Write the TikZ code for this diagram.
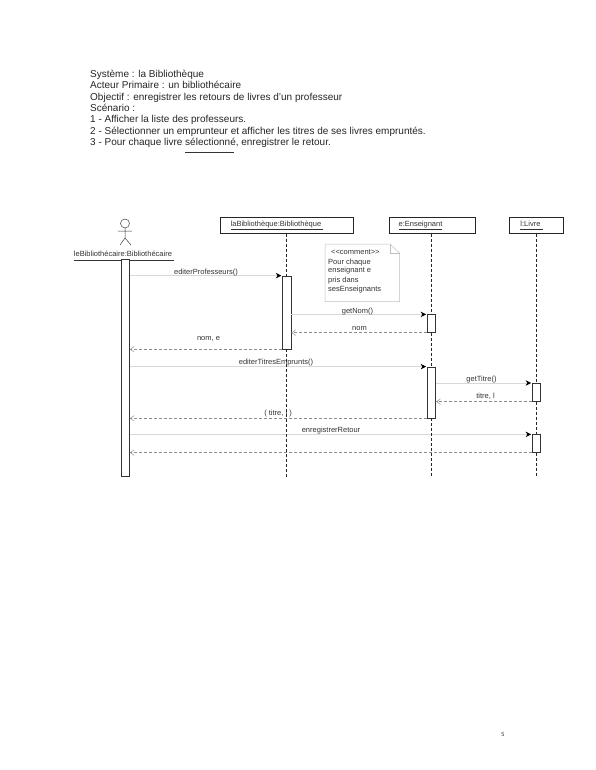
\documentclass[tikz,border=0pt]{standalone}
\usepackage{fontspec}
\setmainfont{Liberation Sans}
\usetikzlibrary{arrows.meta}
\definecolor{inktext}{HTML}{333333}
\definecolor{msgline}{HTML}{D8D8D8}
\definecolor{backline}{HTML}{8C8C8C}
\newcommand{\ulname}[1]{\underline{\vphantom{gl}#1}}
\tikzset{
  intro/.style={anchor=base west,inner sep=0pt,text=black!85,font=\fontsize{10}{12}\selectfont},
  msglabel/.style={inner sep=0pt,text=inktext,font=\fontsize{7.5}{9}\selectfont},
  headbox/.style={draw=black!85,line width=0.7pt,minimum height=15.5pt,inner sep=0pt,text=inktext,font=\fontsize{7.5}{9}\selectfont},
  activebar/.style={draw=black!80,fill=white,line width=0.7pt,minimum width=8.5pt,inner sep=0pt},
  lifeline/.style={densely dashed,line width=0.6pt,black!85},
  callmsg/.style={msgline,line width=0.7pt,shorten >=0.8pt,-{Stealth[black,length=5.5pt,width=5.5pt]}},
  backmsg/.style={backline,densely dashed,line width=0.5pt,-{Straight Barb[msgline!70!black,length=4pt,width=5.5pt]}}
}
\begin{document}
\begin{tikzpicture}[x=1pt,y=-1pt]
\useasboundingbox[fill=white] (0,0) rectangle (595,770);
% texte du scenario
\node[intro] (sys) at (90,77.5) {Système : la Bibliothèque};
\node[intro] (act) at (90,89) {Acteur Primaire : un bibliothécaire};
\node[intro] (obj) at (90,100.5) {Objectif : enregistrer les retours de livres d'un professeur};
\node[intro] (sce) at (90,112) {Scénario :};
\node[intro] (st1) at (90,123) {1 - Afficher la liste des professeurs.};
\node[intro] (st2) at (90,134.5) {2 - Sélectionner un emprunteur et afficher les titres de ses livres empruntés.};
\node[intro] (st3) at (90,146) {3 - Pour chaque livre sélectionné, enregistrer le retour.};
\draw[black!80,line width=0.5pt] (185,152) -- (234,152);
% en-tetes
\node[headbox,minimum width=133pt] (bib) at (286.5,225.5) {\ulname{laBibliothèque:Bibliothèque }\hspace*{19pt}};
\node[headbox,minimum width=86pt] (ens) at (432,225.5) {\ulname{e:Enseignant}\hspace*{23pt}};
\node[headbox,minimum width=54pt] (liv) at (536,225.5) {\ulname{l:Livre }\hspace*{9pt}};
% acteur
\draw[black!75,line width=0.5pt] (125,223.5) circle (4.5);
\draw[black!75,line width=0.5pt] (125,228) -- (125,238) (118,231) -- (132,231) (120,245) -- (125,238) -- (131,245);
\node[msglabel] (bibl) at (124,256) {\ulname{leBibliothécaire:Bibliothécaire }};
% barres d'activation
\node[activebar,minimum height=216.5pt] (barA) at (125.2,367.8) {};
\node[activebar,minimum height=73pt] (barB) at (286.7,312.5) {};
\node[activebar,minimum height=17.5pt] (barC) at (431.5,323.5) {};
\node[activebar,minimum height=51pt] (barD) at (431.5,392.5) {};
\node[activebar,minimum height=18pt] (barE) at (536.5,392.3) {};
\node[activebar,minimum height=17.5pt] (barF) at (536.5,443.5) {};
\coordinate (endB) at (286.7,477);
\coordinate (endD) at (431.5,477);
\coordinate (endF) at (536.5,477);
% messages
\foreach \a/\b in {barA/barB,barB/barC,barA/barD,barD/barE,barA/barF}
  \draw[callmsg] (\a.east |- \b.north west) -- (\b.north west);
\draw[backmsg] (barC.south west) -- (barB.east |- barC.south west);
\draw[backmsg] (barB.south west) -- (barA.east |- barB.south west);
\draw[backmsg] (barE.south west) -- (barD.east |- barE.south west);
\draw[backmsg] (barD.south west) -- (barA.east |- barD.south west);
\draw[backmsg] (barF.south west) -- (barA.east |- barF.south west);
\node[msglabel] (m1) at (206,272.3) {editerProfesseurs()};
\node[msglabel] (m2) at (357.5,311.3) {getNom()};
\node[msglabel] (m3) at (359.5,328.3) {nom};
\node[msglabel] (m4) at (208.5,339.3) {nom, e};
\node[msglabel] (m5) at (276,362.3) {editerTitresEmprunts()};
\node[msglabel] (m6) at (481.5,379.3) {getTitre()};
\node[msglabel] (m7) at (485.5,396.3) {titre, l};
\node[msglabel] (m8) at (278,413.3) {( titre, l )};
\node[msglabel] (m9) at (331,430.3) {enregistrerRetour};
% lignes de vie
\draw[lifeline] (bib.south -| barB) -- (barB.north);
\draw[lifeline] (barB.south) -- (endB);
\draw[lifeline] (ens.south -| barC) -- (barC.north);
\draw[lifeline] (barC.south) -- (barD.north);
\draw[lifeline] (barD.south) -- (endD);
\draw[lifeline] (liv.south -| barE) -- (barE.north);
\draw[lifeline] (barE.south) -- (barF.north);
\draw[lifeline] (barF.south) -- (endF);
% note
\draw[black!25,line width=0.5pt] (325,244) -- (390,244) -- (399.5,253) -- (399.5,301.5) -- (325,301.5) -- cycle;
\draw[black!25,line width=0.5pt] (390,244) -- (390,253) -- (399.5,253);
\node[msglabel,anchor=base west] (cmt) at (331,254.5) {<{}<comment>{}>};
\node[msglabel,anchor=base west] (n1) at (328,264) {Pour chaque};
\node[msglabel,anchor=base west] (n2) at (328,272.5) {enseignant e};
\node[msglabel,anchor=base west] (n3) at (328,282) {pris dans};
\node[msglabel,anchor=base west] (n4) at (328,291) {sesEnseignants};
% numero de page
\node[inner sep=0pt,text=black!80,font=\fontsize{5.5}{6}\selectfont] (page) at (503,735) {5};
\end{tikzpicture}
\end{document}
